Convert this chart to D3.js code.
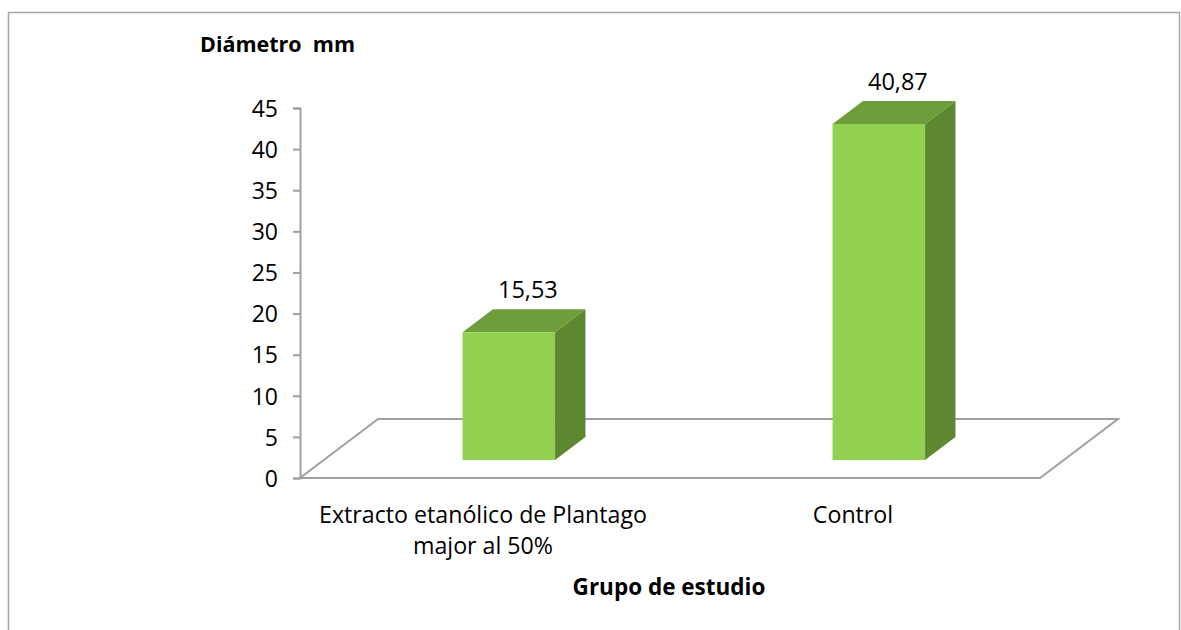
<!DOCTYPE html>
<html>
<head>
<meta charset="utf-8">
<script src="https://cdn.jsdelivr.net/npm/d3@7"></script>
<style>
  body { margin: 0; background: #fff; }
  svg text { font-family: "Open Sans", "Noto Sans", sans-serif; fill: #000; white-space: pre; }
</style>
</head>
<body>
<svg id="chart" width="1181" height="630"></svg>
<script>
// data
const categories = ["Extracto etanólico de Plantago|major al 50%", "Control"];
const values = [15.53, 40.87];
const yTicks = [0, 5, 10, 15, 20, 25, 30, 35, 40, 45];
const yTitle = "Diámetro  mm";
const xTitle = "Grupo de estudio";

const width = 1181, height = 630;
const svg = d3.select("#chart");

// chart frame
svg.append("rect")
    .attr("x", 8.5).attr("y", 12.5)
    .attr("width", 1171).attr("height", 640)
    .attr("fill", "#fff")
    .attr("stroke", "#a6a6a6")
    .attr("stroke-width", 1.5);

const x = d3.scaleBand()
    .domain(categories)
    .range([300, 1040]);

const y = d3.scaleLinear()
    .domain([0, 45])
    .range([478, 108]);

// depth projection (0 = front, 1 = back of floor)
const dx = d3.scaleLinear().domain([0, 1]).range([0, 78]);
const dy = d3.scaleLinear().domain([0, 1]).range([0, -59]);
const barDepth = [0.305, 0.695];
const barW = x.bandwidth() * 0.25;

const fmt = d3.formatLocale({decimal: ",", thousands: ".", grouping: [3], currency: ["", ""]}).format(".2f");

// floor
const x0 = x.range()[0], x1 = x.range()[1], yb = y(0);
svg.append("path")
    .attr("d", `M${x0},${yb}L${x1},${yb}L${x1 + dx(1)},${yb + dy(1)}L${x0 + dx(1)},${yb + dy(1)}Z`)
    .attr("fill", "none")
    .attr("stroke", "#a0a0a0")
    .attr("stroke-width", 2);

// y axis
const yAxis = svg.append("g")
    .attr("transform", `translate(${x0},0)`)
    .call(d3.axisLeft(y).tickValues(yTicks).tickSize(7).tickPadding(15));
yAxis.select(".domain").attr("stroke", "#a0a0a0").attr("stroke-width", 2);
yAxis.selectAll(".tick line").attr("stroke", "#a0a0a0").attr("stroke-width", 2);
yAxis.selectAll(".tick text")
    .style("font-size", "23px")
    .attr("dy", "0.36em")
    .style("font-family", "'Open Sans', sans-serif");

// bars
const bars = svg.selectAll("g.bar")
    .data(categories.map((c, i) => ({c, v: values[i]})))
    .enter().append("g").attr("class", "bar");

bars.each(function(d) {
    const g = d3.select(this);
    const cx = x(d.c) + x.bandwidth() / 2;
    const l = cx - barW / 2, r = cx + barW / 2;
    const f = barDepth[0], b = barDepth[1];
    const top = y(d.v), bot = y(0);
    const P = (px, py, dd) => [px + dx(dd), py + dy(dd)];
    const poly = pts => "M" + pts.map(p => p.join(",")).join("L") + "Z";
    // side
    g.append("path")
        .attr("d", poly([P(r, top, f), P(r, top, b), P(r, bot, b), P(r, bot, f)]))
        .attr("fill", "#5e8732");
    // top
    g.append("path")
        .attr("d", poly([P(l, top, f), P(l, top, b), P(r, top, b), P(r, top, f)]))
        .attr("fill", "#6e9e3c");
    // front
    g.append("path")
        .attr("d", poly([P(l, top, f), P(r, top, f), P(r, bot, f), P(l, bot, f)]))
        .attr("fill", "#92d050");
    // label
    const lp = P(cx, top, 0.55);
    g.append("text")
        .attr("x", lp[0])
        .attr("y", top + dy(b) - 11)
        .attr("text-anchor", "middle")
        .style("font-size", "23.5px")
        .text(fmt(d.v));
});

// category labels
svg.selectAll("text.cat")
    .data(categories)
    .enter().append("text")
    .attr("class", "cat")
    .attr("text-anchor", "middle")
    .attr("x", d => x(d) + x.bandwidth() / 2 - 2)
    .attr("y", 523)
    .style("font-size", "23.2px")
    .each(function(d) {
        const t = d3.select(this);
        d.split("|").forEach((line, i) => {
            t.append("tspan")
                .attr("x", t.attr("x"))
                .attr("dy", i === 0 ? 0 : 31)
                .text(line);
        });
    });

// titles
svg.append("text")
    .attr("x", 200).attr("y", 52)
    .style("font-size", "21.5px")
    .style("font-weight", "bold")
    .text(yTitle);

svg.append("text")
    .attr("x", 669).attr("y", 595)
    .attr("text-anchor", "middle")
    .style("font-size", "22.5px")
    .style("font-weight", "bold")
    .text(xTitle);
</script>
</body>
</html>
